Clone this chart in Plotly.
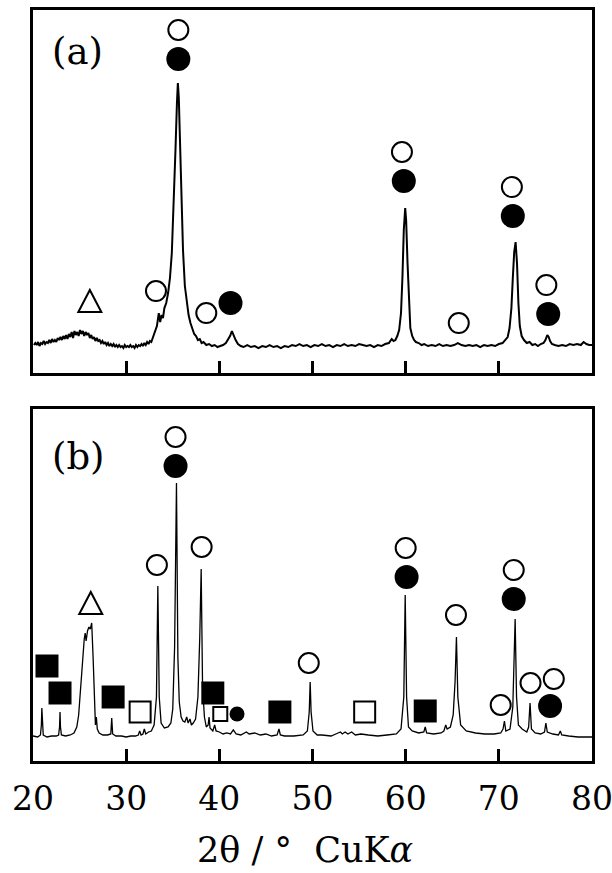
import plotly.graph_objects as go

# ---------------- pattern (a) ----------------
two_theta_a = [
    20.1, 20.25, 20.4, 20.55, 20.7, 20.85, 21.0, 21.15, 21.3, 21.45,
    21.6, 21.75, 21.9, 22.05, 22.2, 22.35, 22.5, 22.65, 22.8, 22.95,
    23.1, 23.25, 23.4, 23.55, 23.7, 23.85, 24.0, 24.15, 24.3, 24.45,
    24.6, 24.75, 24.9, 25.05, 25.2, 25.35, 25.5, 25.65, 25.8, 25.95,
    26.1, 26.25, 26.4, 26.55, 26.7, 26.85, 27.0, 27.15, 27.3, 27.45,
    27.6, 27.75, 27.9, 28.05, 28.2, 28.35, 28.5, 28.65, 28.8, 28.95,
    29.1, 29.25, 29.4, 29.55, 29.7, 29.85, 30.0, 30.15, 30.3, 30.45,
    30.6, 30.75, 30.9, 31.05, 31.2, 31.35, 31.5, 31.65, 31.8, 31.95,
    32.1, 32.25, 32.4, 32.55, 32.7,
    33.0, 33.3, 33.5, 33.65, 33.8, 33.95, 34.1,
    34.3, 34.5, 34.7, 34.9, 35.1, 35.3, 35.45, 35.55, 35.65, 35.8,
    35.95, 36.1, 36.3, 36.5, 36.7, 36.9, 37.1, 37.3, 37.5, 37.7,
    37.9, 38.1, 38.3, 38.6, 38.9, 39.2, 39.5, 39.8, 40.1, 40.4,
    40.7, 40.95, 41.15, 41.35, 41.55, 41.75, 42.0, 42.3, 42.6, 43.0,
    43.4, 43.8, 44.2, 44.6, 45.0, 45.4, 45.8, 46.2, 46.6, 47.0,
    47.4, 47.8, 48.2, 48.6, 49.0, 49.4, 49.8, 50.2, 50.6, 51.0,
    51.4, 51.8, 52.2, 52.6, 53.0, 53.4, 53.8, 54.2, 54.6, 55.0,
    55.4, 55.8, 56.2, 56.6, 57.0, 57.4, 57.8, 58.2, 58.5, 58.7,
    58.9, 59.1, 59.3, 59.5, 59.65, 59.8, 59.95, 60.05, 60.2, 60.35,
    60.5, 60.7, 60.9, 61.1, 61.4, 61.7, 62.0, 62.4, 62.8, 63.2,
    63.6, 64.0, 64.4, 64.8, 65.2, 65.6, 66.0, 66.4, 66.8, 67.2,
    67.6, 68.0, 68.4, 68.8, 69.2, 69.6, 70.0, 70.4, 70.7, 70.95,
    71.15, 71.35, 71.5, 71.65, 71.8, 71.95, 72.1, 72.25, 72.45, 72.7,
    73.0, 73.3, 73.6, 73.9, 74.2, 74.5, 74.8, 75.0, 75.2, 75.35,
    75.5, 75.7, 76.0, 76.4, 76.8, 77.2, 77.6, 78.0, 78.4, 78.8,
    79.1, 79.4, 79.7, 80.0,
]
intensity_a = [
    3, 5, 3, 6, 2, 5, 4, 7, 4, 6,
    5, 8, 5, 9, 6, 8, 6, 10, 8, 11,
    8, 12, 9, 13, 9, 14, 11, 16, 10, 17,
    13, 16, 12, 18, 14, 17, 12, 16, 13, 15,
    10, 13, 9, 11, 7, 10, 7, 8, 5, 7,
    4, 6, 3, 5, 2, 4, 2, 4, 1, 3,
    1, 3, 1, 2, 0, 3, 1, 2, 1, 3,
    1, 2, 0, 3, 1, 3, 2, 4, 2, 5,
    3, 6, 4, 7, 6,
    14, 22, 35, 26, 33, 30, 40,
    45, 55, 70, 95, 140, 200, 245, 265, 250, 200,
    140, 98, 62, 45, 33, 25, 20, 14, 12, 8,
    9, 5, 6, 3, 4, 2, 3, 1, 2, 3,
    5, 9, 12, 17, 12, 8, 4, 2, 1, 3,
    1, 2, 0, 2, 1, 3, 1, 2, 0, 2,
    1, 3, 2, 4, 2, 3, 1, 3, 2, 4,
    2, 3, 1, 3, 2, 4, 2, 3, 2, 4,
    3, 2, 3, 1, 3, 2, 4, 5, 9, 7,
    8, 12, 18, 35, 70, 118, 140, 128, 85, 45,
    20, 12, 8, 6, 5, 3, 4, 2, 3, 2,
    4, 2, 3, 2, 3, 5, 3, 2, 3, 2,
    3, 1, 3, 2, 3, 2, 4, 5, 8, 11,
    20, 40, 70, 96, 106, 85, 45, 22, 12, 8,
    5, 6, 3, 4, 2, 4, 5, 8, 13, 11,
    7, 4, 3, 2, 3, 2, 4, 3, 4, 3,
    6, 4, 3, 3,
]

# phase markers for (a)
open_circle_a_x = [33.2, 35.6, 38.6, 59.6, 65.7, 71.4, 75.1]
open_circle_a_y = [57, 318, 35, 196, 25, 161, 63]
filled_circle_a_x = [35.6, 41.2, 59.8, 71.5, 75.3]
filled_circle_a_y = [289, 45, 167, 132, 34]
triangle_a_x = [26.1]
triangle_a_y = [45]

# ---------------- pattern (b) ----------------
two_theta_b = [
    20.0, 20.5, 20.8, 20.9, 20.95, 21.0, 21.1, 21.5, 22.0, 22.5,
    22.75, 22.85, 22.9, 22.95, 23.05, 23.5, 24.0, 24.4, 24.7, 24.9,
    25.1, 25.3, 25.5, 25.6, 25.7, 25.85, 26.0, 26.15, 26.3, 26.45,
    26.6, 26.7, 26.8, 26.9, 27.1, 27.5, 28.0, 28.35, 28.45, 28.55,
    28.9, 29.5, 30.0, 30.5, 31.0, 31.3, 31.45, 31.6, 31.8, 31.95,
    32.1, 32.4, 32.7, 33.0, 33.25, 33.4, 33.55, 33.75, 34.1, 34.5,
    34.8, 35.0, 35.2, 35.4, 35.55, 35.7, 35.9, 36.1, 36.3, 36.5,
    36.65, 36.85, 37.0, 37.2, 37.45, 37.7, 37.9, 38.05, 38.2, 38.4,
    38.6, 38.8, 38.9, 39.0, 39.3, 39.5, 39.65, 40.0, 40.4, 40.8,
    41.2, 41.5, 41.8, 42.3, 42.9, 43.2, 43.8, 44.4, 45.0, 45.6,
    46.2, 46.4, 46.55, 47.0, 48.0, 49.0, 49.45, 49.65, 49.75, 49.85,
    50.05, 50.5, 51.0, 52.0, 52.5, 52.8, 53.0, 53.2, 53.5, 53.8,
    54.2, 54.6, 55.2, 56.0, 57.0, 58.0, 59.0, 59.5, 59.8, 59.95,
    60.1, 60.3, 60.7, 61.4, 61.95, 62.1, 62.25, 63.0, 63.8, 64.1,
    64.3, 64.45, 64.8, 65.1, 65.3, 65.45, 65.6, 65.9, 66.5, 67.5,
    68.5, 69.5, 70.2, 70.45, 70.6, 70.75, 71.2, 71.5, 71.75, 71.9,
    72.1, 72.5, 73.0, 73.2, 73.35, 73.5, 73.9, 74.5, 74.9, 75.05,
    75.2, 75.8, 76.4, 76.6, 76.75, 77.5, 78.5, 79.5, 80.0,
]
intensity_b = [
    1, 0, 2, 12, 29, 12, 2, 0, 1, 1,
    2, 10, 25, 10, 2, 1, 2, 4, 10, 22,
    50, 80, 98, 104, 96, 106, 110, 108, 114, 80,
    28, 12, 20, 8, 4, 2, 2, 3, 19, 3,
    1, 1, 0, 1, 1, 2, 6, 2, 3, 8,
    3, 5, 6, 12, 40, 151, 40, 14, 9, 10,
    14, 28, 90, 254, 80, 35, 20, 16, 15, 20,
    14, 18, 12, 14, 18, 40, 100, 168, 50, 20,
    10, 12, 20, 9, 6, 12, 6, 5, 3, 4,
    3, 7, 3, 2, 5, 3, 4, 2, 3, 1,
    2, 8, 2, 1, 1, 2, 6, 25, 55, 25,
    6, 2, 2, 1, 3, 4, 5, 3, 5, 3,
    5, 2, 3, 2, 1, 2, 3, 8, 40, 142,
    40, 10, 6, 4, 5, 10, 4, 3, 4, 6,
    12, 8, 10, 22, 55, 100, 40, 12, 6, 4,
    3, 3, 4, 8, 16, 6, 8, 30, 118, 40,
    12, 8, 5, 10, 34, 8, 4, 3, 5, 14,
    5, 3, 2, 6, 2, 1, 0, 0, 0,
]

# phase markers for (b)
open_circle_b_x = [33.3, 35.3, 38.1, 49.6, 60.0, 65.4, 70.2, 71.6, 73.4, 75.9]
open_circle_b_y = [172, 300, 190, 74, 189, 122, 32, 167, 54, 58]
filled_circle_b_x = [35.3, 60.1, 71.6, 75.5]
filled_circle_b_y = [271, 160, 138, 31]
filled_square_b_x = [21.5, 22.9, 28.6, 39.3, 46.5, 62.1]
filled_square_b_y = [71, 44, 40, 44, 25, 26]
open_square_b_x = [31.5, 55.6]
open_square_b_y = [25, 25]
small_open_square_b_x = [40.1]
small_open_square_b_y = [23]
small_filled_circle_b_x = [41.9]
small_filled_circle_b_y = [23]
triangle_b_x = [26.2]
triangle_b_y = [132]

x_ticks = [20, 30, 40, 50, 60, 70, 80]
x_tick_labels = ["20", "30", "40", "50", "60", "70", "80"]

SERIF = "DejaVu Serif"
BLACK = "#000000"

fig = go.Figure()


def add_pattern(x, y, xa, ya, width):
    fig.add_trace(go.Scatter(x=x, y=y, mode="lines", xaxis=xa, yaxis=ya,
                             line=dict(color=BLACK, width=width),
                             showlegend=False, hoverinfo="skip"))


def add_markers(x, y, xa, ya, symbol, size, filled):
    fig.add_trace(go.Scatter(
        x=x, y=y, mode="markers", xaxis=xa, yaxis=ya, cliponaxis=False,
        marker=dict(symbol=symbol, size=size,
                    color=BLACK if filled else "white",
                    line=dict(color=BLACK, width=0 if filled else 2)),
        showlegend=False, hoverinfo="skip"))


add_pattern(two_theta_a, intensity_a, "x", "y", 2.0)
add_markers(open_circle_a_x, open_circle_a_y, "x", "y", "circle", 20, False)
add_markers(filled_circle_a_x, filled_circle_a_y, "x", "y", "circle", 24, True)

add_pattern(two_theta_b, intensity_b, "x2", "y2", 1.3)
add_markers(open_circle_b_x, open_circle_b_y, "x2", "y2", "circle", 20, False)
add_markers(filled_circle_b_x, filled_circle_b_y, "x2", "y2", "circle", 24, True)
add_markers(filled_square_b_x, filled_square_b_y, "x2", "y2", "square", 23, True)
add_markers(open_square_b_x, open_square_b_y, "x2", "y2", "square", 21, False)
add_markers(small_open_square_b_x, small_open_square_b_y, "x2", "y2", "square", 14, False)
add_markers(small_filled_circle_b_x, small_filled_circle_b_y, "x2", "y2", "circle", 15, True)

# open triangles drawn as pixel-sized paths anchored on their data positions
TRIANGLE_PATH = "M -11.5,-9 L 11.5,-9 L 0,13 Z"
shapes = []
for xs, ys, xr, yr in [(triangle_a_x, triangle_a_y, "x", "y"),
                       (triangle_b_x, triangle_b_y, "x2", "y2")]:
    for tx, ty in zip(xs, ys):
        shapes.append(dict(type="path", xref=xr, yref=yr,
                           xsizemode="pixel", ysizemode="pixel",
                           xanchor=tx, yanchor=ty, path=TRIANGLE_PATH,
                           line=dict(color=BLACK, width=2),
                           fillcolor="white", layer="above"))

frame = dict(showline=True, linecolor=BLACK, linewidth=3, mirror=True,
             showgrid=False, zeroline=False, automargin=False)
xcommon = dict(range=[20, 80], tickvals=x_ticks, ticktext=x_tick_labels,
               ticks="inside", ticklen=12, tickwidth=2.5, tickcolor=BLACK,
               **frame)
ycommon = dict(showticklabels=False, ticks="", **frame)

fig.update_layout(
    width=612, height=873,
    margin=dict(l=33, r=20, t=10, b=112, autoexpand=False),
    paper_bgcolor="white", plot_bgcolor="white",
    font=dict(family=SERIF, size=33, color=BLACK),
    shapes=shapes,
    xaxis=dict(domain=[0, 1], anchor="y", showticklabels=False, **xcommon),
    yaxis=dict(domain=[0.5166, 1], anchor="x", range=[-25, 338], **ycommon),
    xaxis2=dict(domain=[0, 1], anchor="y2", showticklabels=True,
                ticklabeloverflow="allow", ticklabelstandoff=6,
                tickfont=dict(family=SERIF, size=33, color=BLACK), **xcommon),
    yaxis2=dict(domain=[0, 0.4687], anchor="x2", range=[-24, 328], **ycommon),
    annotations=[
        dict(text="(a)", xref="x domain", yref="y domain", x=0.079, y=0.887,
             xanchor="center", yanchor="middle", showarrow=False,
             font=dict(family=SERIF, size=37, color=BLACK)),
        dict(text="(b)", xref="x2 domain", yref="y2 domain", x=0.081, y=0.866,
             xanchor="center", yanchor="middle", showarrow=False,
             font=dict(family=SERIF, size=37, color=BLACK)),
        dict(text="2θ / °  CuK<i>α</i>", xref="paper", yref="paper",
             x=0.487, y=-0.118, xanchor="center", yanchor="middle",
             showarrow=False, font=dict(family=SERIF, size=35, color=BLACK)),
    ],
)

fig.write_html("out.html")
